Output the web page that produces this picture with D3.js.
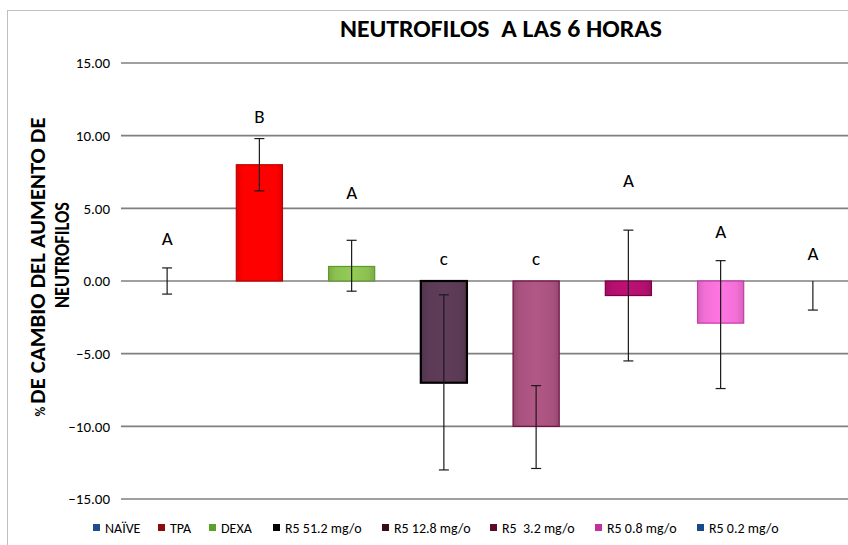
<!DOCTYPE html>
<html>
<head>
<meta charset="utf-8">
<script src="https://cdn.jsdelivr.net/npm/d3@7"></script>
<style>
body { margin: 0; background: #fff; }
svg { display: block; font-family: Carlito, "Liberation Sans", sans-serif; }
</style>
</head>
<body>
<div id="chart"></div>
<script>
'use strict';

// data
var groups = ['NAÏVE', 'TPA', 'DEXA', 'R5 51.2 mg/o', 'R5 12.8 mg/o', 'R5  3.2 mg/o', 'R5 0.8 mg/o', 'R5 0.2 mg/o'];
var values = [0, 8.0, 1.0, -7.0, -10.0, -1.0, -2.9, 0];
var errHigh = [0.9, 9.8, 2.8, -0.95, -7.2, 3.5, 1.4, 0];
var errLow = [-0.9, 6.2, -0.7, -13.0, -12.9, -5.5, -7.4, -2.0];
var letters = ['A', 'B', 'A', 'c', 'c', 'A', 'A', 'A'];
var letterAt = [2.9, 11.3, 6.1, 1.5, 1.5, 6.9, 3.4, 1.9];
var yTicks = [15, 10, 5, 0, -5, -10, -15];

var fills = ['#1f4e8c', '#ff0000', '#8cc152', '#5b3a55', '#a9527f', '#b3106f', '#f26fd6', '#1f4e8c'];
var edges = ['#1f4e8c', '#c00000', '#5e9a2a', '#000000', '#6e0f3e', '#7e0048', '#c43ca8', '#1f4e8c'];
var legendColors = ['#1f4e8c', '#8b0a0a', '#5ba02a', '#000000', '#3b0a18', '#5c0a2c', '#c0309e', '#174a8a'];
var legendX = [93, 158, 209, 273, 382, 490, 595, 697];

var W = 848, H = 545;
var svg = d3.select('#chart').append('svg').attr('width', W).attr('height', H);

// chart frame
svg.append('rect')
	.attr('x', 7.5).attr('y', 10.5).attr('width', 900).attr('height', 600)
	.attr('fill', 'none').attr('stroke', '#bfbfbf').attr('stroke-width', 1);

var x = d3.scaleBand().domain(groups).range([121, 859]);
var y = d3.scaleLinear().domain([-15, 15]).range([499, 63]);
var bw = x.bandwidth() * 0.5;
var idx = d3.range(groups.length);

// gradients, lighter middle and darker edges
var defs = svg.append('defs');
idx.forEach(function(i)
{
	var grad = defs.append('linearGradient').attr('id', 'g' + i)
		.attr('x1', '0%').attr('x2', '100%').attr('y1', '0%').attr('y2', '0%');
	grad.append('stop').attr('offset', '0%').attr('stop-color', d3.color(fills[i]).darker(0.35));
	grad.append('stop').attr('offset', '15%').attr('stop-color', fills[i]);
	grad.append('stop').attr('offset', '50%').attr('stop-color', d3.color(fills[i]).brighter(0.15));
	grad.append('stop').attr('offset', '85%').attr('stop-color', fills[i]);
	grad.append('stop').attr('offset', '100%').attr('stop-color', d3.color(fills[i]).darker(0.35));
});

// grid lines
svg.append('g').selectAll('line').data(yTicks).enter().append('line')
	.attr('x1', 121).attr('x2', W)
	.attr('y1', function(d) { return y(d); })
	.attr('y2', function(d) { return y(d); })
	.attr('stroke', '#7f7f7f').attr('stroke-width', 1.6);

var yAxis = d3.axisLeft(y).tickValues(yTicks).tickFormat(d3.format('.2f')).tickSize(0).tickPadding(11);
var ax = svg.append('g').attr('transform', 'translate(121,0)').call(yAxis);
ax.select('.domain').remove();
ax.attr('font-family', null).attr('font-size', null);
ax.selectAll('text').attr('font-size', 15).attr('fill', '#000');

// bars
svg.append('g').selectAll('rect').data(idx.filter(function(i) { return values[i] !== 0; })).enter().append('rect')
	.attr('x', function(i) { return x(groups[i]) + (x.bandwidth() - bw) / 2; })
	.attr('y', function(i) { return y(Math.max(0, values[i])); })
	.attr('width', bw)
	.attr('height', function(i) { return Math.abs(y(values[i]) - y(0)); })
	.attr('fill', function(i) { return 'url(#g' + i + ')'; })
	.attr('stroke', function(i) { return edges[i]; })
	.attr('stroke-width', function(i) { return i === 3 ? 2.2 : 1.2; });

// error bars
var eb = svg.append('g').attr('stroke', '#1a1a1a').attr('stroke-width', 1.2);
idx.forEach(function(i)
{
	var cx = x(groups[i]) + x.bandwidth() / 2;
	eb.append('line').attr('x1', cx).attr('x2', cx).attr('y1', y(errHigh[i])).attr('y2', y(errLow[i]));
	if (errHigh[i] !== values[i])
		eb.append('line').attr('x1', cx - 5).attr('x2', cx + 5).attr('y1', y(errHigh[i])).attr('y2', y(errHigh[i]));
	if (errLow[i] !== values[i])
		eb.append('line').attr('x1', cx - 5).attr('x2', cx + 5).attr('y1', y(errLow[i])).attr('y2', y(errLow[i]));
});

// significance letters
svg.append('g').selectAll('text').data(idx).enter().append('text')
	.attr('x', function(i) { return x(groups[i]) + x.bandwidth() / 2; })
	.attr('y', function(i) { return y(letterAt[i]); })
	.attr('text-anchor', 'middle').attr('dy', '0.33em')
	.attr('font-size', 19).attr('fill', '#000')
	.text(function(i) { return letters[i]; });

// title
svg.append('text').attr('x', 501).attr('y', 37)
	.attr('text-anchor', 'middle').attr('font-size', 25).attr('font-weight', 'bold')
	.attr('textLength', 322).attr('lengthAdjust', 'spacingAndGlyphs')
	.style('white-space', 'pre')
	.text('NEUTROFILOS  A LAS 6 HORAS');

// y title, two lines
var t1 = svg.append('text').attr('transform', 'translate(45,267) rotate(-90)')
	.attr('text-anchor', 'middle').attr('font-weight', 'bold')
	.attr('textLength', 299).attr('lengthAdjust', 'spacingAndGlyphs');
t1.append('tspan').attr('font-size', 13).text('% ');
t1.append('tspan').attr('font-size', 22).text('DE CAMBIO DEL AUMENTO DE');
svg.append('text').attr('transform', 'translate(69,255) rotate(-90)')
	.attr('text-anchor', 'middle').attr('font-size', 22).attr('font-weight', 'bold')
	.attr('textLength', 106).attr('lengthAdjust', 'spacingAndGlyphs')
	.text('NEUTROFILOS');

// legend
var lg = svg.append('g').selectAll('g').data(idx).enter().append('g')
	.attr('transform', function(i) { return 'translate(' + legendX[i] + ',528)'; });
lg.append('rect').attr('x', 0).attr('y', -4).attr('width', 7).attr('height', 7)
	.attr('fill', function(i) { return legendColors[i]; });
lg.append('text').attr('x', 12).attr('y', 0).attr('dy', '0.33em')
	.attr('font-size', 14).attr('fill', '#000')
	.style('white-space', 'pre')
	.text(function(i) { return groups[i]; });
</script>
</body>
</html>
